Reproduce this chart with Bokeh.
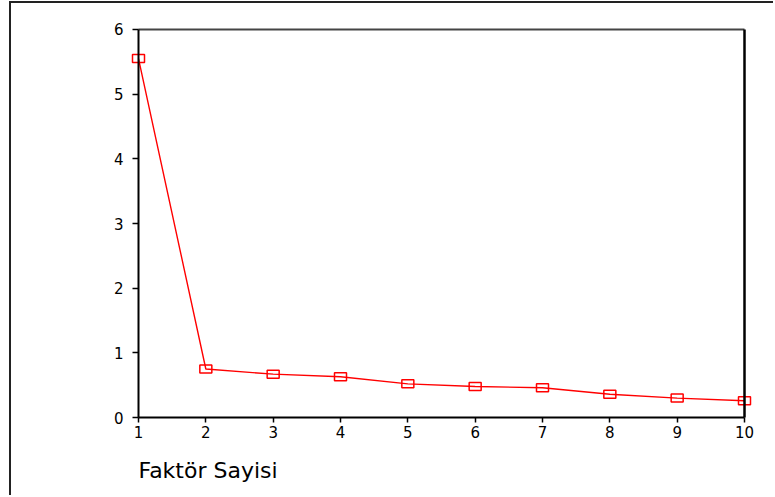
from bokeh.plotting import figure
from bokeh.models import Range1d, LinearAxis, FixedTicker, Title
from bokeh.embed import file_html
from bokeh.resources import INLINE

factors = [1, 2, 3, 4, 5, 6, 7, 8, 9, 10]
eigenvalues = [5.55, 0.75, 0.67, 0.63, 0.52, 0.48, 0.46, 0.36, 0.30, 0.26]
x_ticks = [1, 2, 3, 4, 5, 6, 7, 8, 9, 10]
y_ticks = [0, 1, 2, 3, 4, 5, 6]
x_title = "Faktör Sayisi"

FONT = "DejaVu Sans"

# frame is made large (page x 100..760, y 22..450) so that the axes drawn at
# fixed locations and the edge markers are never clipped
p = figure(width=764, height=494, output_backend="svg", toolbar_location=None,
           x_range=Range1d(1 - 38 / 67.33, 10 + 16 / 67.33),
           y_range=Range1d(0 - 33 / 64.67, 6 + 7 / 64.67),
           min_border_left=89, min_border_right=15, min_border_top=19,
           min_border_bottom=47)
p.margin = (1, 0, 0, 9)
p.styles = {"border-left": "2px solid #222222", "border-top": "2px solid #222222"}
p.grid.visible = False
p.outline_line_color = None
p.background_fill_color = "white"
p.border_fill_color = "white"


def style(ax, ticks, bounds, loc, color, width, tick_out, standoff):
    ax.ticker = FixedTicker(ticks=ticks)
    ax.bounds = bounds
    ax.fixed_location = loc
    ax.axis_line_color = color
    ax.axis_line_width = width
    ax.major_tick_line_color = color
    ax.major_tick_line_width = 1.5
    ax.major_tick_in = 0
    ax.major_tick_out = tick_out
    ax.minor_tick_line_color = None
    ax.major_label_standoff = standoff
    ax.major_label_text_font = FONT
    ax.major_label_text_font_size = "15px"
    ax.major_label_text_color = "black"


style(p.yaxis[0], y_ticks, (0, 6), x_ticks[0], "black", 2, 6, 9)
style(p.xaxis[0], x_ticks, (1, 10), y_ticks[0], "black", 2, 5, 3)

right = LinearAxis(major_label_text_font_size="15px")
style(right, [], (0, 6), x_ticks[-1], "black", 2.5, 0, 0)
p.add_layout(right, "right")
top = LinearAxis(major_label_text_font_size="15px")
style(top, [], (1, 10), y_ticks[-1], "#444444", 2, 0, 0)
p.add_layout(top, "above")

p.line(factors, eigenvalues, line_color="red", line_width=1.4)
p.rect(factors, eigenvalues, width=12, height=8, width_units="screen",
       height_units="screen", fill_color=None, line_color="red", line_width=1.5)

p.add_layout(Title(text=x_title, align="left", offset=38, text_font=FONT,
                   text_font_size="22px", text_font_style="normal",
                   text_color="black", standoff=11), "below")

open("out.html", "w").write(file_html(p, INLINE))
